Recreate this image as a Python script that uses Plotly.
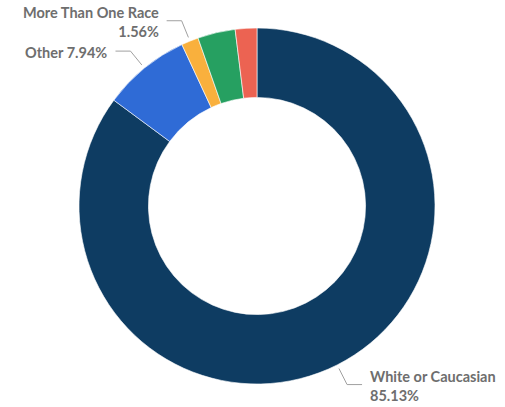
import math
import plotly.graph_objects as go

categories = ["White or Caucasian", "Other", "More Than One Race", "Asian", "Black or African American"]
values = [85.13, 7.94, 1.56, 3.41, 1.96]
colors = ["#0e3c62", "#2f6bd6", "#f9b03d", "#26a061", "#ec6352"]
label_text = {
    "White or Caucasian": "White or Caucasian<br>85.13%",
    "Other": "Other 7.94%",
    "More Than One Race": "More Than One Race<br>1.56%",
}

W, H = 505, 407
cx, cy, R = 257, 206, 178  # pie center/radius in figure pixels

fig = go.Figure(go.Pie(
    labels=categories, values=values, hole=0.61, sort=False, direction="clockwise",
    rotation=0, marker=dict(colors=colors, line=dict(color="white", width=0.6)),
    textinfo="none", hoverinfo="label+percent", showlegend=False,
    domain=dict(x=[(cx - R) / W, (cx + R) / W], y=[(H - cy - R) / H, (H - cy + R) / H]),
))

total = sum(values)
cum = 0
shapes, annotations = [], []
px = lambda x: x / W
py = lambda y: 1 - y / H
for cat, v in zip(categories, values):
    mid = (cum + v / 2) / total * 2 * math.pi
    cum += v
    if cat not in label_text:
        continue
    s, c = math.sin(mid), math.cos(mid)
    x0, y0 = cx + 182 * s, cy - 182 * c
    x1, y1 = cx + 200 * s, cy - 200 * c
    side = 1 if s >= 0 else -1
    x2 = x1 + side * 15
    shapes.append(dict(type="path", xref="paper", yref="paper",
                       path=f"M {px(x0)} {py(y0)} L {px(x1)} {py(y1)} L {px(x2)} {py(y1)}",
                       line=dict(color="#a0a0a0", width=1)))
    annotations.append(dict(x=px(x2 + side * 6), y=py(y1), xref="paper", yref="paper",
                            text=label_text[cat], showarrow=False, yshift=-1,
                            xanchor="left" if side > 0 else "right", yanchor="middle",
                            align="left" if side > 0 else "right",
                            font=dict(family="Lato", size=14.5, color="#6e6e6e", weight="bold")))

fig.update_layout(width=W, height=H, margin=dict(l=0, r=0, t=0, b=0),
                  paper_bgcolor="white", plot_bgcolor="white",
                  shapes=shapes, annotations=annotations)
fig.write_html("out.html", config={"displayModeBar": False},
               post_script="document.body.style.margin='0';")
